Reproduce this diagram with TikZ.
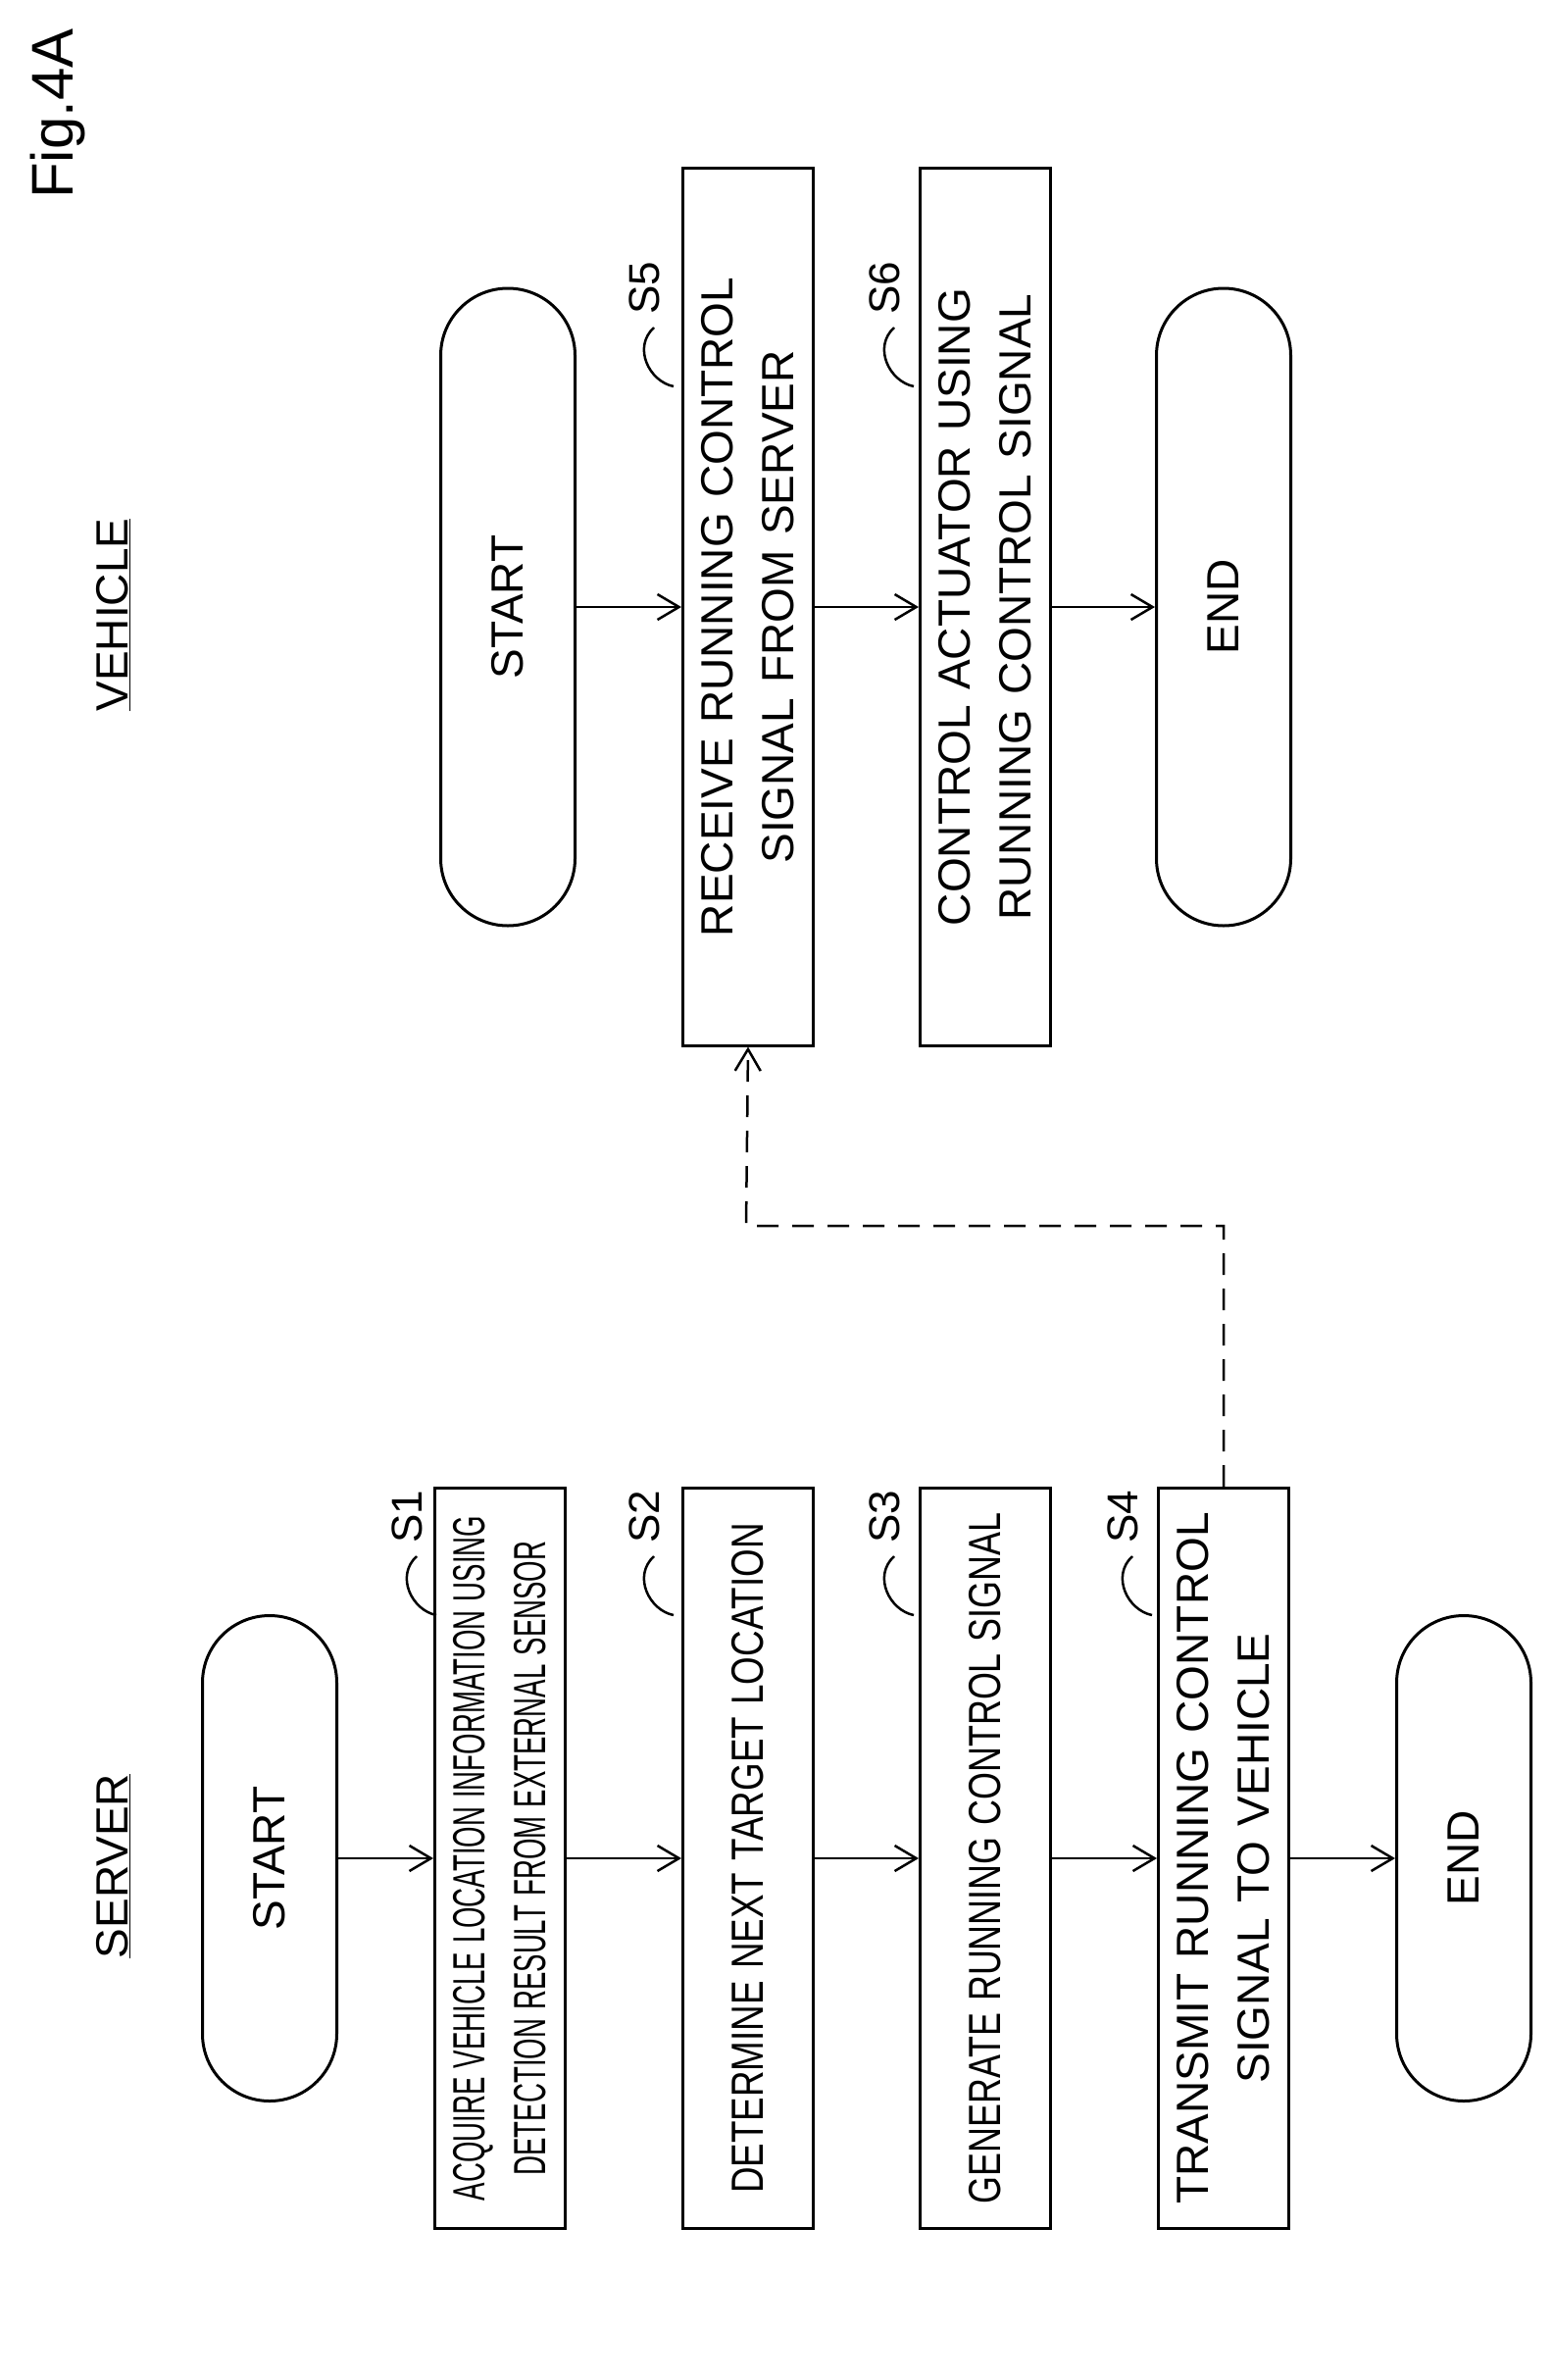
\documentclass[tikz,border=0pt]{standalone}
\usepackage{fontspec}
\setmainfont{Liberation Sans}
\usetikzlibrary{shapes.misc,arrows.meta}
\begin{document}
\begin{tikzpicture}[x=1pt,y=1pt,
  every node/.style={font=\fontsize{46}{62}\selectfont},
  box/.style={draw,line width=3pt,rectangle,rotate=90,text width=735,minimum width=755,minimum height=133,align=center,inner sep=0},
  vbox/.style={box,minimum width=894,text width=874},
  term/.style={draw,line width=3pt,rounded rectangle,rotate=90,minimum width=495,minimum height=137,inner sep=0},
  vterm/.style={term,minimum width=650},
  arr/.style={line width=2.5pt,-{Straight Barb[length=22pt,width=26pt,line width=2.5pt]}},
  lab/.style={rotate=90,font=\fontsize{44}{50}\selectfont},
  lead/.style={line width=2.5pt}]
\useasboundingbox (0,0) rectangle (1584,-2427);
\node[rotate=90,font=\fontsize{60}{66}\selectfont] (fig) at (59,-116) {Fig.4A};
\node[rotate=90] (server) at (116,-1903) {\underline{SERVER}};
\node[rotate=90] (vehicle) at (116,-627) {\underline{VEHICLE}};
% server
\node[term] (a0) at (275,-1895) {START};
\node[box] (s1) at (510,-1895) {\scalebox{0.6}[1]{ACQUIRE VEHICLE LOCATION INFORMATION USING}\\\scalebox{0.6}[1]{DETECTION RESULT FROM EXTERNAL SENSOR}};
\node[box] (s2) at (763,-1895) {\scalebox{0.8}[1]{DETERMINE NEXT TARGET LOCATION}};
\node[box] (s3) at (1005,-1895) {\scalebox{0.78}[1]{GENERATE RUNNING CONTROL SIGNAL}};
\node[box] (s4) at (1248,-1895) {TRANSMIT RUNNING CONTROL\\SIGNAL TO VEHICLE};
\node[term] (a1) at (1493,-1895) {END};
\draw[arr] (a0) -- (s1);
\draw[arr] (s1) -- (s2);
\draw[arr] (s2) -- (s3);
\draw[arr] (s3) -- (s4);
\draw[arr] (s4) -- (a1);
% vehicle
\node[vterm] (b0) at (518,-619) {START};
\node[vbox] (s5) at (763,-619) {RECEIVE RUNNING CONTROL\\SIGNAL FROM SERVER};
\node[vbox] (s6) at (1005,-619) {CONTROL ACTUATOR USING\\RUNNING CONTROL SIGNAL};
\node[vterm] (b1) at (1248,-619) {END};
\draw[arr] (b0) -- (s5);
\draw[arr] (s5) -- (s6);
\draw[arr] (s6) -- (b1);
% dashed
\coordinate (d1) at (1248,-1250);
\coordinate (d2) at (761,-1250);
\draw[arr,dash pattern=on 22pt off 14pt] (s4.east) -- (d1) -- (d2) -- (s5.west);
% step labels
\foreach \n/\x/\y in {s1/415/-1547, s2/657/-1547, s3/902/-1547, s4/1145/-1547, s5/657/-294, s6/902/-294}{
  \node[lab] (l\n) at (\x,\y) {\MakeUppercase{\n}};
  \draw[lead] (\x+10,\y-40) .. controls (\x-12,\y-60) and (\x+5,\y-95) .. (\x+30,\y-100);
}
\end{tikzpicture}
\end{document}
